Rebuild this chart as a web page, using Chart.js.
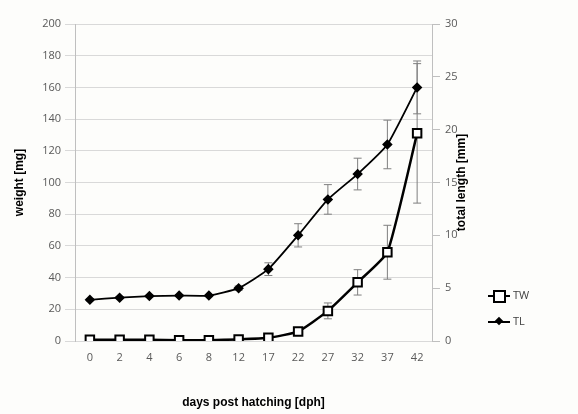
<!DOCTYPE html>
<html>
<head>
<meta charset="utf-8">
<script src="https://cdn.jsdelivr.net/npm/chart.js@4.4.1/dist/chart.umd.min.js"></script>
<style>
  html, body { margin: 0; padding: 0; background: #fdfdfb; }
  #wrap { position: relative; width: 578px; height: 414px; }
  .leg { position: absolute; left: 488px; font: 11px "Open Sans", sans-serif; color: #404040; height: 14px; }
  .leg .ln { position: absolute; left: 0; top: 6px; width: 22px; height: 2px; background: #000; }
  .leg .mk { position: absolute; }
  .leg .tx { position: absolute; left: 25px; top: -2px; }
</style>
</head>
<body>
<div id="wrap">
  <canvas id="chart" width="578" height="414"></canvas>
  <div class="leg" style="top:289px">
    <div class="ln"></div>
    <div class="mk" style="left:5px;top:1px;width:9px;height:9px;border:2px solid #000;background:#fff"></div>
    <div class="tx">TW</div>
  </div>
  <div class="leg" style="top:315px">
    <div class="ln"></div>
    <div class="mk" style="left:8px;top:3px;width:6px;height:6px;background:#000;transform:rotate(45deg)"></div>
    <div class="tx">TL</div>
  </div>
</div>
<script>
const days = ['0', '2', '4', '6', '8', '12', '17', '22', '27', '32', '37', '42'];
const weightTW = [0.8, 0.8, 0.8, 0.5, 0.5, 1, 2, 6, 19, 37, 56, 131];
const weightErr = [0, 0, 0, 0, 0, 0.5, 1, 2, 5, 8, 17, 44];
const lengthTL = [3.9, 4.1, 4.25, 4.3, 4.3, 5.0, 6.8, 10.0, 13.4, 15.8, 18.6, 24.0];
const lengthErr = [0.1, 0.1, 0.1, 0.1, 0.1, 0.2, 0.6, 1.1, 1.4, 1.5, 2.3, 2.5];

const tickFont = { family: 'Open Sans', size: 11 };
const titleFont = { family: 'Liberation Sans', size: 12, weight: 'bold' };

// error bars, drawn under the markers
const errorBars = {
    id: 'errorBars',
    beforeDatasetsDraw(chart) {
        const ctx = chart.ctx;
        ctx.save();
        ctx.strokeStyle = '#7f7f7f';
        ctx.lineWidth = 1;
        chart.data.datasets.forEach((ds, di) => {
            const meta = chart.getDatasetMeta(di);
            const scale = chart.scales[ds.yAxisID];
            ds.errors.forEach((e, i) => {
                if (!e) return;
                const x = meta.data[i].x;
                const y1 = scale.getPixelForValue(ds.data[i] + e);
                const y2 = scale.getPixelForValue(ds.data[i] - e);
                ctx.beginPath();
                ctx.moveTo(x, y1); ctx.lineTo(x, y2);
                ctx.moveTo(x - 4, y1); ctx.lineTo(x + 4, y1);
                ctx.moveTo(x - 4, y2); ctx.lineTo(x + 4, y2);
                ctx.stroke();
            });
        });
        ctx.restore();
    }
};

// right axis title, reading bottom to top like the left one
const rightTitle = {
    id: 'rightTitle',
    afterDraw(chart) {
        const ctx = chart.ctx;
        const a = chart.chartArea;
        ctx.save();
        ctx.translate(462, (a.top + a.bottom) / 2);
        ctx.rotate(-Math.PI / 2);
        ctx.font = 'bold 12px "Liberation Sans"';
        ctx.fillStyle = '#000';
        ctx.textAlign = 'center';
        ctx.textBaseline = 'middle';
        ctx.fillText('total length [mm]', 0, 0);
        ctx.restore();
    }
};

new Chart(document.getElementById('chart'), {
    type: 'line',
    data: {
        labels: days,
        datasets: [
            {
                label: 'TW',
                data: weightTW,
                errors: weightErr,
                yAxisID: 'yW',
                borderColor: '#000',
                borderWidth: 2.5,
                pointStyle: 'rect',
                pointRadius: 6,
                pointBorderWidth: 2,
                pointBackgroundColor: '#fff',
                pointBorderColor: '#000',
                tension: 0.15,
            },
            {
                label: 'TL',
                data: lengthTL,
                errors: lengthErr,
                yAxisID: 'yL',
                borderColor: '#000',
                borderWidth: 1.8,
                pointStyle: 'rectRot',
                pointRadius: 4,
                pointBackgroundColor: '#000',
                pointBorderColor: '#000',
                tension: 0.15,
            }
        ]
    },
    options: {
        responsive: false,
        animation: false,
        layout: { padding: { left: 8, top: 24, right: 105, bottom: 0 } },
        plugins: { legend: { display: false }, tooltip: { enabled: false } },
        scales: {
            x: {
                offset: true,
                grid: { display: false },
                border: { display: true, color: '#d9d9d9' },
                ticks: { color: '#595959', font: tickFont, padding: 2 },
                title: { display: true, text: 'days post hatching [dph]', color: '#000', font: titleFont },
                afterFit(s) { s.height = 73; }
            },
            yW: {
                position: 'left',
                min: 0, max: 200,
                ticks: { stepSize: 20, color: '#595959', font: tickFont, padding: 4 },
                grid: { color: '#d9d9d9', tickLength: 10 },
                border: { color: '#bfbfbf' },
                title: { display: true, text: 'weight [mg]', color: '#000', font: titleFont },
                afterFit(s) { s.width = 67; }
            },
            yL: {
                position: 'right',
                min: 0, max: 30,
                ticks: { stepSize: 5, color: '#595959', font: tickFont, padding: 5 },
                grid: { drawOnChartArea: false, color: '#bfbfbf', tickLength: 8 },
                border: { color: '#bfbfbf' },
                afterFit(s) { s.width = 41; }
            }
        }
    },
    plugins: [errorBars, rightTitle]
});
</script>
</body>
</html>
